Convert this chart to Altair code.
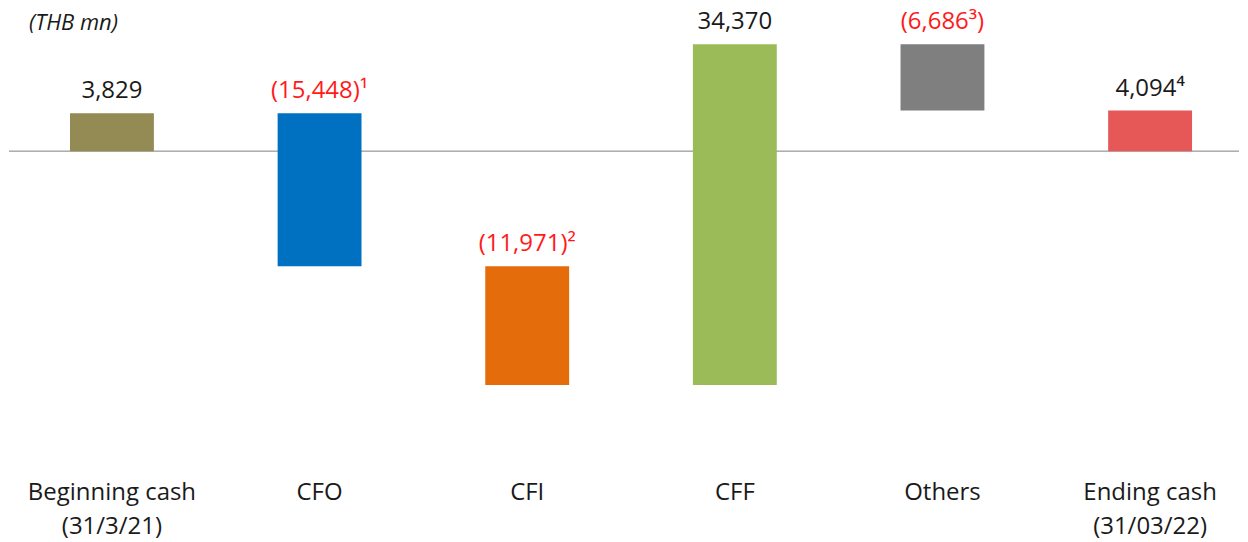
import altair as alt
import pandas as pd

categories = ["Beginning cash\n(31/3/21)", "CFO", "CFI", "CFF", "Others", "Ending cash\n(31/03/22)"]
values = [3829, -15448, -11971, 34370, -6686, 4094]
kinds = ["total", "delta", "delta", "delta", "delta", "total"]
value_labels = ["3,829", "(15,448)¹", "(11,971)²", "34,370", "(6,686³)", "4,094⁴"]
bar_colors = ["#948A54", "#0070C0", "#E46C0A", "#9BBB59", "#7F7F7F", "#E65858"]

rows = []
running = 0
for cat, v, k, lab in zip(categories, values, kinds, value_labels):
    if k == "total":
        start, end = 0, v
        running = v
    else:
        start, end = running, running + v
        running = end
    rows.append({"category": cat, "start": start, "end": end,
                 "top": max(start, end), "label": lab, "neg": int(v < 0)})
df = pd.DataFrame(rows)

font = "Open Sans"

xscale = alt.Scale(domain=categories, paddingInner=0.596, paddingOuter=0.26, align=0.565)
yscale = alt.Scale(domain=[-25900, 14400], nice=False, zero=False)

base = alt.Chart(df)

bars = base.mark_bar().encode(
    x=alt.X("category:N", scale=xscale,
            axis=alt.Axis(title=None, domain=False, ticks=False, grid=False,
                          labelAngle=0, labelFont=font, labelFontSize=24,
                          labelColor="#1a1a1a", labelPadding=73,
                          labelLineHeight=34, labelBaseline="top")),
    y=alt.Y("start:Q", scale=yscale, axis=None),
    y2="end:Q",
    color=alt.Color("category:N", scale=alt.Scale(domain=categories, range=bar_colors), legend=None),
)

labels_pos = base.transform_filter("datum.neg == 0").mark_text(
    dy=-15, baseline="alphabetic", font=font, fontSize=24, color="#1a1a1a"
).encode(
    x=alt.X("category:N", scale=xscale),
    y=alt.Y("top:Q", scale=yscale, axis=None),
    text="label:N",
)

labels_neg = base.transform_filter("datum.neg == 1").mark_text(
    dy=-15, baseline="alphabetic", font=font, fontSize=24, color="#FF1A1A"
).encode(
    x=alt.X("category:N", scale=xscale),
    y=alt.Y("top:Q", scale=yscale, axis=None),
    text="label:N",
)

zero = alt.Chart(pd.DataFrame({"z": [0]})).mark_rule(color="#7F7F7F", strokeWidth=1).encode(
    y=alt.Y("z:Q", scale=yscale, axis=None)
)

title = alt.Chart(pd.DataFrame({"t": ["(THB mn)"]})).mark_text(
    align="left", baseline="alphabetic", font=font, fontSize=22, fontStyle="italic", color="#1a1a1a"
).encode(x=alt.value(20), y=alt.value(22), text="t:N")

chart = alt.layer(zero, bars, labels_pos, labels_neg, title).properties(
    width=1232, height=400, padding=0,
).configure(lineBreak="\n").configure_view(stroke=None)

chart.save("out.html", embed_options={"renderer": "svg", "actions": False})
